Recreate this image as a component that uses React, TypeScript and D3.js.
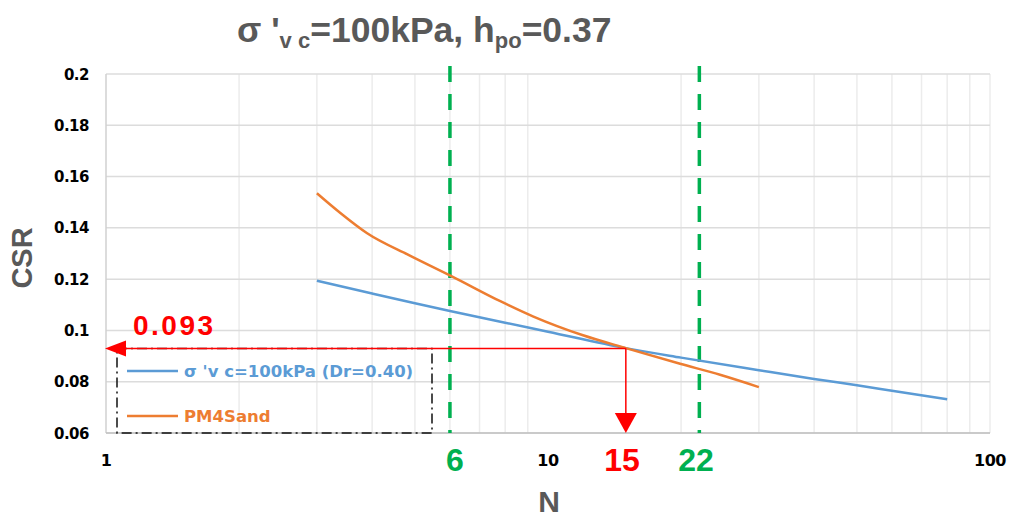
import React from "react";
import * as d3 from "d3";

const blueN = [3, 4, 5, 6, 8, 10, 15, 20, 30, 40, 50, 60, 80];
const blueCSR = [0.1194, 0.1144, 0.1106, 0.1076, 0.103, 0.0995, 0.0931, 0.0894, 0.0845, 0.0811, 0.0786, 0.0765, 0.0732];
const orangeN = [3, 3.39, 3.89, 4.87, 6.06, 7.8, 9.27, 12, 15, 19.9, 24.5, 30];
const orangeCSR = [0.1535, 0.1458, 0.138, 0.1292, 0.1211, 0.1114, 0.1054, 0.0981, 0.0931, 0.087, 0.0827, 0.0779];
const yTicks = [0.06, 0.08, 0.1, 0.12, 0.14, 0.16, 0.18, 0.2];
const yTickLabels = ["0.06", "0.08", "0.1", "0.12", "0.14", "0.16", "0.18", "0.2"];
const xTicks = [1, 10, 100];
const xMinor = [2, 3, 4, 5, 6, 7, 8, 9, 20, 30, 40, 50, 60, 70, 80, 90, 100];
const greenN = [6, 22];
const markN = 15;
const markCSR = 0.093;
const legendLabels = ["σ 'v c=100kPa (Dr=0.40)", "PM4Sand"];

const W = 1013, H = 519;
const x = d3.scaleLog().domain([1, 100]).range([106, 990]);
const y = d3.scaleLinear().domain([0.06, 0.2]).range([433, 74]);

const line = d3
  .line<[number, number]>()
  .x((d) => x(d[0]))
  .y((d) => y(d[1]))
  .curve(d3.curveMonotoneX);

export default function App() {
  const blue = line(blueN.map((n, i) => [n, blueCSR[i]]) as [number, number][]) || "";
  const orange = line(orangeN.map((n, i) => [n, orangeCSR[i]]) as [number, number][]) || "";
  const mx = x(markN);
  const my = y(markCSR);
  const x0 = x(1);
  const yb = y(0.06);
  const sans = "'Liberation Sans', Arial, sans-serif";
  const dv = "'DejaVu Sans', sans-serif";
  return (
    <svg width={W} height={H} style={{ position: "absolute", left: 0, top: 0, background: "#fff" }}>
      {/* grid */}
      {xMinor.map((n) => (
        <line key={"v" + n} x1={x(n)} x2={x(n)} y1={y(0.2)} y2={yb} stroke="#ECECEC" strokeWidth={1.5} />
      ))}
      {yTicks.map((t) => (
        <line key={"h" + t} x1={x0} x2={x(100)} y1={y(t)} y2={y(t)} stroke="#DCDCDC" strokeWidth={1.5} />
      ))}
      <line x1={x0} x2={x0} y1={y(0.2)} y2={yb} stroke="#D0D0D0" strokeWidth={1.5} />
      <line x1={x0} x2={x(100)} y1={yb} y2={yb} stroke="#C0C0C0" strokeWidth={1.5} />

      {/* y ticks */}
      {yTicks.map((t, i) => (
        <text key={"yt" + t} x={89} y={y(t) + 5.5} textAnchor="end" fontFamily={dv} fontWeight="bold" fontSize={15} fill="#000" letterSpacing={-0.5}>
          {yTickLabels[i]}
        </text>
      ))}
      {xTicks.map((t) => (
        <text key={"xt" + t} x={x(t)} y={466} textAnchor="middle" fontFamily={dv} fontWeight="bold" fontSize={16} fill="#000" letterSpacing={-0.5}>
          {t}
        </text>
      ))}

      {/* green dashed lines */}
      {greenN.map((n) => (
        <line key={"g" + n} x1={x(n)} x2={x(n)} y1={66} y2={yb} stroke="#00B050" strokeWidth={3.5} strokeDasharray="16 12" />
      ))}

      {/* series */}
      <path d={blue} fill="none" stroke="#5B9BD5" strokeWidth={2.5} />
      <path d={orange} fill="none" stroke="#ED7D31" strokeWidth={2.5} />

      {/* legend box */}
      <rect x={117} y={my} width={315} height={yb - my} fill="none" stroke="#111" strokeWidth={1.5} strokeDasharray="10 4 2 4" />
      <line x1={127} x2={178} y1={371} y2={371} stroke="#5B9BD5" strokeWidth={2.5} />
      <text x={184} y={377} fontFamily={dv} fontWeight="bold" fontSize={16.5} fill="#5B9BD5">{legendLabels[0]}</text>
      <line x1={127} x2={178} y1={416} y2={416} stroke="#ED7D31" strokeWidth={2.5} />
      <text x={184} y={422} fontFamily={dv} fontWeight="bold" fontSize={16.5} fill="#ED7D31">{legendLabels[1]}</text>

      {/* red arrows */}
      <line x1={mx} x2={x0 + 18} y1={my} y2={my} stroke="#FF0000" strokeWidth={1.5} />
      <path d={`M${x0 - 1},${my} L${x0 + 20},${my - 8} L${x0 + 20},${my + 8} Z`} fill="#FF0000" />
      <line x1={mx} x2={mx} y1={my} y2={yb - 18} stroke="#FF0000" strokeWidth={1.5} />
      <path d={`M${mx},${yb} L${mx - 11},${yb - 20} L${mx + 11},${yb - 20} Z`} fill="#FF0000" />

      {/* annotations */}
      <text x={133} y={335} fontFamily={sans} fontWeight="bold" fontSize={28} fill="#FF0000" letterSpacing={2.5}>0.093</text>
      <text x={455} y={471} textAnchor="middle" fontFamily={sans} fontWeight="bold" fontSize={32} fill="#00B050">6</text>
      <text x={622} y={471} textAnchor="middle" fontFamily={sans} fontWeight="bold" fontSize={32} fill="#FF0000">15</text>
      <text x={696} y={471} textAnchor="middle" fontFamily={sans} fontWeight="bold" fontSize={32} fill="#00B050">22</text>

      {/* axis titles */}
      <text x={549} y={512} textAnchor="middle" fontFamily={sans} fontWeight="bold" fontSize={30} fill="#595959">N</text>
      <text transform="translate(32,258) rotate(-90)" textAnchor="middle" fontFamily={sans} fontWeight="bold" fontSize={29} fill="#595959">CSR</text>

      {/* title */}
      <text x={237} y={42} fontFamily={sans} fontWeight="bold" fontSize={35.5} fill="#595959">
        <tspan>σ '</tspan>
        <tspan fontSize={22} dy={6}>v c</tspan>
        <tspan dy={-6}>=100kPa, h</tspan>
        <tspan fontSize={22} dy={6}>po</tspan>
        <tspan dy={-6}>=0.37</tspan>
      </text>
    </svg>
  );
}
